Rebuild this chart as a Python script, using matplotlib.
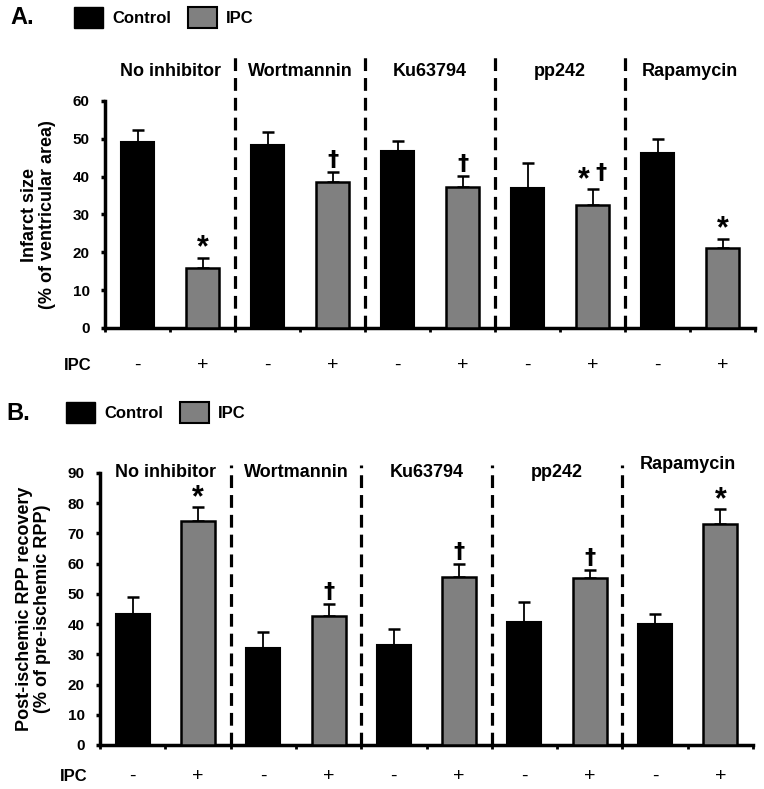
import numpy as np
import matplotlib.pyplot as plt
from matplotlib.patches import Patch

plt.rcParams['font.family'] = ['Liberation Sans', 'DejaVu Sans']
plt.rcParams['font.weight'] = 'bold'

# data
groups = ['No inhibitor', 'Wortmannin', 'Ku63794', 'pp242', 'Rapamycin']
infarct_ctrl = [49.2, 48.5, 46.8, 36.9, 46.3]
infarct_ctrl_err = [3.1, 3.3, 2.6, 6.6, 3.7]
infarct_ipc = [15.8, 38.7, 37.4, 32.4, 21.1]
infarct_ipc_err = [2.8, 2.6, 2.9, 4.4, 2.5]
infarct_marks = ['*', '†', '†', '*†', '*']

rpp_ctrl = [43.3, 32.2, 33.1, 40.8, 40.0]
rpp_ctrl_err = [5.6, 5.3, 5.3, 6.4, 3.3]
rpp_ipc = [74.2, 42.7, 55.6, 55.2, 73.2]
rpp_ipc_err = [4.5, 4.0, 4.3, 2.6, 4.9]
rpp_marks = ['*', '†', '†', '†', '*']

ipc_signs = ['-', '+']

W, H = 764, 789
fig = plt.figure(figsize=(W / 100, H / 100), dpi=100)
PX = 0.72  # points per pixel at dpi 100

dagger_font = dict(family='DejaVu Sans', fontsize=16, fontweight='bold')


def star(ax, x, y, dx=0):
    ax.annotate('*', xy=(x, y), xytext=(dx * PX, -6 * PX), textcoords='offset points',
                ha='center', va='bottom', fontsize=22, fontweight='bold')


def dagger(ax, x, y, dx=0, dy=2):
    ax.annotate('†', xy=(x, y), xytext=(dx * PX, dy * PX), textcoords='offset points',
                ha='center', va='bottom', **dagger_font)


def panel(rect, ctrl, ctrl_err, ipc, ipc_err, marks, ymax, ylabel, label_y, dash_top,
          letter, letter_pos, leg_pos, ipc_y, ipc_x):
    ax = fig.add_axes(rect)
    x_ctrl = np.arange(len(groups)) * 2 + 0.5
    x_ipc = x_ctrl + 1
    bw = 0.52
    ax.bar(x_ctrl, ctrl, width=bw, color='black', edgecolor='black', lw=1.5, zorder=3)
    ax.bar(x_ipc, ipc, width=bw, color='#808080', edgecolor='black', lw=1.8, zorder=3)
    ax.errorbar(x_ctrl, ctrl, yerr=[np.zeros(len(ctrl)), ctrl_err], fmt='none',
                ecolor='black', elinewidth=1.3, capsize=4, capthick=1.8, zorder=2)
    ax.errorbar(x_ipc, ipc, yerr=[np.zeros(len(ipc)), ipc_err], fmt='none',
                ecolor='black', elinewidth=1.3, capsize=4, capthick=1.8, zorder=2)

    # significance marks
    for xi, yi, ei, m in zip(x_ipc, ipc, ipc_err, marks):
        top = yi + ei
        if m == '*':
            star(ax, xi, top)
        elif m == '†':
            dagger(ax, xi, top)
        else:
            star(ax, xi, top, dx=-8.5)
            dagger(ax, xi, top, dx=8.5, dy=6)

    # group separators and labels
    for k in range(1, len(groups)):
        ax.plot([2 * k, 2 * k], [0, dash_top], color='black', lw=2.3,
                dashes=(4, 2.2), clip_on=False, zorder=1)
    for k, g in enumerate(groups):
        ly = label_y[k] if isinstance(label_y, list) else label_y
        ax.text(2 * k + 1, ly, g, ha='center', va='center', fontsize=13,
                fontweight='bold')

    ax.set_xlim(0, 2 * len(groups))
    ax.set_ylim(0, ymax)
    ax.set_xticks(np.arange(0, 2 * len(groups) + 1))
    ax.set_xticklabels([])
    ax.set_yticks(np.arange(0, ymax + 1, 10))
    ax.tick_params(axis='x', direction='out', length=3, width=2)
    ax.tick_params(axis='y', direction='out', length=3, width=2.5, labelsize=11, pad=8)
    for lab in ax.get_yticklabels():
        lab.set_fontweight('bold')
    for s in ['top', 'right']:
        ax.spines[s].set_visible(False)
    for s in ['left', 'bottom']:
        ax.spines[s].set_linewidth(2.5)
    ax.set_ylabel(ylabel, fontsize=13, fontweight='bold', labelpad=12, linespacing=1.05)

    # IPC -/+ row
    tr = ax.get_xaxis_transform()
    for k in range(len(groups)):
        for j, sgn in enumerate(ipc_signs):
            ax.text(2 * k + 0.5 + j, ipc_y, sgn, transform=tr, ha='center',
                    va='center', fontsize=14, fontweight='normal')
    ax.text(ipc_x, ipc_y, 'IPC', transform=tr, ha='center', va='center',
            fontsize=12, fontweight='bold')

    fig.text(letter_pos[0] / W, 1 - letter_pos[1] / H, letter, fontsize=17,
             fontweight='bold', ha='left', va='center')
    handles = [Patch(facecolor='black', edgecolor='black', label='Control'),
               Patch(facecolor='#808080', edgecolor='black', lw=1.5, label='IPC')]
    fig.legend(handles=handles, loc='center left',
               bbox_to_anchor=(leg_pos[0] / W, 1 - leg_pos[1] / H), ncol=2,
               frameon=False, handlelength=1.74, handleheight=1.56,
               handletextpad=0.55, columnspacing=1.0, borderpad=0, borderaxespad=0,
               prop={'weight': 'bold', 'size': 12})
    return ax


# panel A
panel([105 / W, 1 - 328 / H, 650 / W, 227 / H], infarct_ctrl, infarct_ctrl_err,
      infarct_ipc, infarct_ipc_err, infarct_marks, 60,
      'Infarct size\n(% of ventricular area)', 67.7, 71.6,
      'A.', (10, 18), (74, 17.5), -0.165, -0.415)

# panel B
panel([100 / W, 1 - 745 / H, 653 / W, 272 / H], rpp_ctrl, rpp_ctrl_err,
      rpp_ipc, rpp_ipc_err, rpp_marks, 90,
      'Post-ischemic RPP recovery\n(% of pre-ischemic RPP)',
      [90.1, 90.1, 90.1, 90.1, 92.7], 92.7,
      'B.', (6, 413), (66, 412.5), -0.115, -0.41)

plt.savefig('out.png', dpi=100)
